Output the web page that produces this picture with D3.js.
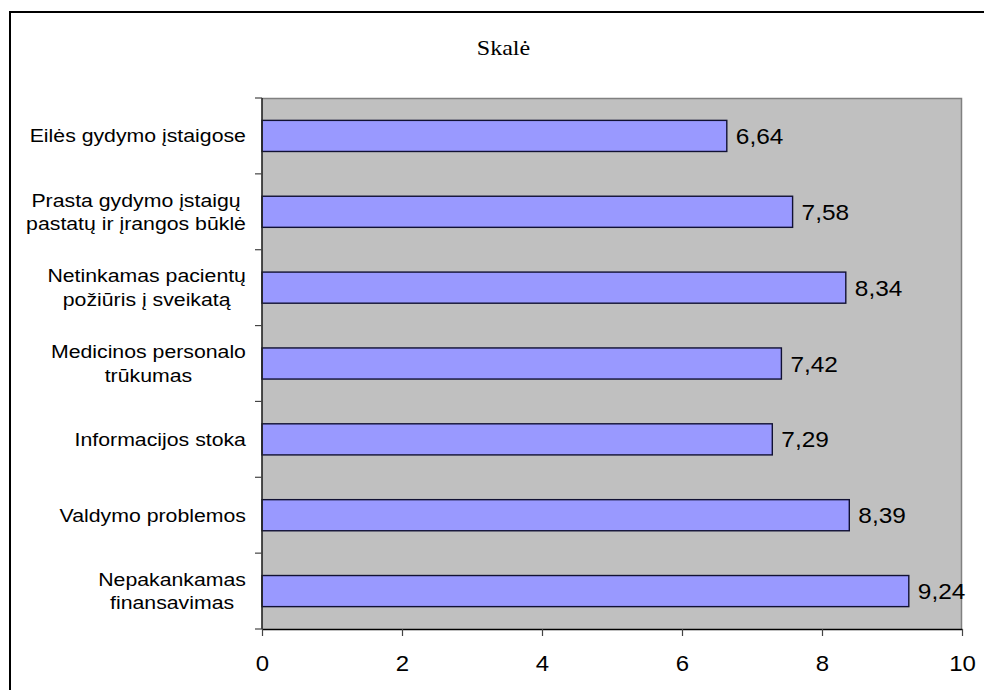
<!DOCTYPE html>
<html>
<head>
<meta charset="utf-8">
<script src="https://cdn.jsdelivr.net/npm/d3@7"></script>
<style>
  html, body { margin: 0; padding: 0; background: #ffffff; }
  svg { display: block; }
</style>
</head>
<body>
<svg id="chart" width="984" height="690"></svg>
<script>
// Category labels (top to bottom); "\n" marks a line break
const categories = [
  "Eilės gydymo įstaigose",
  "Prasta gydymo įstaigų\npastatų ir įrangos būklė",
  "Netinkamas pacientų\npožiūris į sveikatą",
  "Medicinos personalo\ntrūkumas",
  "Informacijos stoka",
  "Valdymo problemos",
  "Nepakankamas\nfinansavimas"
];
const values = [6.64, 7.58, 8.34, 7.42, 7.29, 8.39, 9.24];
const xTicks = [0, 2, 4, 6, 8, 10];
const title = "Skalė";

const svg = d3.select("#chart");
const W = 984, H = 690;
const plot = { left: 262, right: 962, top: 98, bottom: 629 };
const stretch = 1.11;      // horizontal widening of the value labels
const catStretch = 1.15;   // horizontal widening of the category labels

// Outer frame
svg.append("rect")
  .attr("x", 10).attr("y", 12)
  .attr("width", W + 20).attr("height", H + 20)
  .attr("fill", "#ffffff").attr("stroke", "#000000").attr("stroke-width", 2);

// Title
svg.append("text")
  .attr("transform", `translate(503.5,54.5) scale(1.12,1)`)
  .attr("text-anchor", "middle")
  .attr("font-family", "'Liberation Serif', 'Times New Roman', serif")
  .attr("font-size", 21.5)
  .attr("fill", "#000")
  .text(title);

const x = d3.scaleLinear().domain([0, 10]).range([plot.left, plot.right]);
const y = d3.scaleBand().domain(categories).range([plot.top, plot.bottom])
  .paddingInner(0.59).paddingOuter(0.295);

// Plot area background
svg.append("rect")
  .attr("x", plot.left).attr("y", plot.top)
  .attr("width", plot.right - plot.left).attr("height", plot.bottom - plot.top)
  .attr("fill", "#c0c0c0");
// top and right border
svg.append("path")
  .attr("d", `M${plot.left},${plot.top + 0.5}H${plot.right - 0.5}V${plot.bottom}`)
  .attr("fill", "none").attr("stroke", "#808080").attr("stroke-width", 1.5);

// Bars
svg.append("g").selectAll("rect")
  .data(values)
  .join("rect")
  .attr("x", x(0))
  .attr("y", (d, i) => y(categories[i]))
  .attr("width", d => x(d) - x(0))
  .attr("height", y.bandwidth())
  .attr("fill", "#9999ff")
  .attr("stroke", "#111133")
  .attr("stroke-width", 1.4);

// Value labels
svg.append("g").selectAll("text")
  .data(values)
  .join("text")
  .attr("transform", (d, i) =>
    `translate(${x(d) + 9},${y(categories[i]) + y.bandwidth() / 2 + 8}) scale(${stretch},1)`)
  .attr("font-family", "'Liberation Sans', Arial, sans-serif")
  .attr("font-size", 22)
  .attr("fill", "#000")
  .text(d => d.toFixed(2).replace(".", ","));

// Bottom axis
const xAxis = svg.append("g")
  .attr("transform", `translate(0,${plot.bottom})`)
  .call(d3.axisBottom(x).tickValues(xTicks).tickSize(7).tickSizeOuter(0).tickFormat(d => String(d)));
xAxis.select(".domain").attr("stroke", "#000").attr("stroke-width", 1.5);
xAxis.selectAll(".tick line").attr("stroke", "#444").attr("stroke-width", 1.2);
xAxis.selectAll(".tick text")
  .attr("y", 42).attr("dy", 0)
  .attr("transform", `scale(1.09,1)`)
  .attr("font-family", "'Liberation Sans', Arial, sans-serif")
  .attr("font-size", 22)
  .attr("fill", "#000");

// Left axis line and category boundary ticks
const step = y.step();
const bounds = categories.map(c => y(c) - step * y.paddingInner() / 2);
bounds.push(plot.bottom);
const yAxis = svg.append("g");
yAxis.append("line")
  .attr("x1", plot.left).attr("x2", plot.left)
  .attr("y1", plot.top).attr("y2", plot.bottom)
  .attr("stroke", "#222").attr("stroke-width", 1.6);
yAxis.selectAll("line.tick")
  .data(bounds)
  .join("line")
  .attr("class", "tick")
  .attr("x1", plot.left - 7).attr("x2", plot.left)
  .attr("y1", d => d).attr("y2", d => d)
  .attr("stroke", "#444").attr("stroke-width", 1.2);

// Category labels: block right-aligned, lines centred inside the block
const labelRight = 246;
const lineGap = 23.4;
categories.forEach((cat, i) => {
  const lines = cat.split("\n");
  const cy = y(cat) + y.bandwidth() / 2;
  const g = svg.append("g");
  const texts = lines.map((ln, j) =>
    g.append("text")
      .attr("font-family", "'Liberation Sans', Arial, sans-serif")
      .attr("font-size", 18.5)
      .attr("fill", "#000")
      .attr("text-anchor", "middle")
      .text(ln));
  const widths = texts.map(t => t.node().getComputedTextLength() * catStretch);
  const blockW = d3.max(widths);
  const cx = labelRight - blockW / 2;
  texts.forEach((t, j) => {
    const by = cy + (j - (lines.length - 1) / 2) * lineGap + 6.5;
    t.attr("transform", `translate(${cx},${by}) scale(${catStretch},1)`);
  });
});
</script>
</body>
</html>
